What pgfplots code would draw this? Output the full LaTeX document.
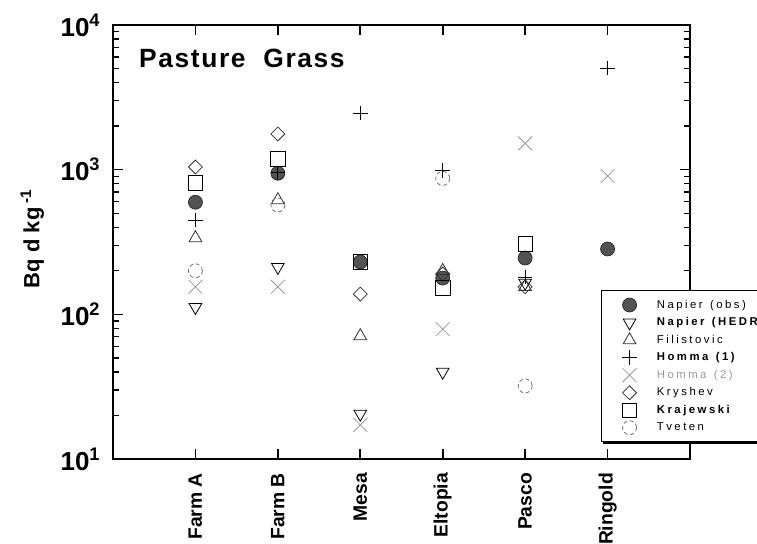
\documentclass[border=0pt]{standalone}
\usepackage{fontspec}
\setmainfont{Liberation Sans}
\newfontfamily\lgfont[LetterSpace=22]{Liberation Sans}
\newfontfamily\ttlfont[LetterSpace=6]{Liberation Sans}
\usepackage{pgfplots}
\pgfplotsset{compat=1.18}
\usetikzlibrary{shadows}
\newcommand{\gap}{\hspace{5.5pt}}
\begin{document}
\begin{tikzpicture}
\begin{axis}[
  name=ax,
  scale only axis, width=432.75pt, height=325.5pt,
  ymode=log, ymin=10, ymax=10000,
  xmin=0, xmax=7,
  xtick={1,2,3,4,5,6},
  xticklabels={Farm A, Farm B, Mesa, Eltopia, Pasco, Ringold},
  ytick={10,100,1000,10000},
  yticklabels={10\textsuperscript{1},10\textsuperscript{2},10\textsuperscript{3},10\textsuperscript{4}},
  tick align=inside,
  xtick pos=both, xticklabel pos=lower,
  ytick pos=both, yticklabel pos=left,
  major tick length=7.5pt, minor tick length=4.5pt,
  every tick/.style={black, line width=1.2pt},
  every minor tick/.style={black, line width=1pt},
  axis line style={line width=1.5pt},
  xticklabel style={rotate=90, anchor=east, font=\bfseries\fontsize{14.5}{16}\selectfont},
  xticklabel shift=7pt,
  yticklabel style={font=\bfseries\fontsize{19.5}{21}\selectfont, xshift=-6pt},
  ylabel={\textbf{Bq d kg\textsuperscript{ -1}}},
  ylabel style={at={(axis description cs:-0.140,0.508)}, anchor=center, font=\bfseries\fontsize{16.5}{18}\selectfont},
  only marks,
  clip=false,
  legend cell align=left,
  legend style={at={(rel axis cs:0.8457,0.3894)}, anchor=north west,
    draw=black, line width=0.9pt, fill=white,
    drop shadow={shadow xshift=1.2pt, shadow yshift=-1.6pt, fill=black, opacity=1},
    font=\lgfont\fontsize{8.5}{10}\selectfont,
    inner xsep=15.5pt, inner ysep=5pt, row sep=1.5pt,
    /tikz/every odd column/.append style={column sep=13pt}},
]
\addplot[mark=*, mark size=5.25pt, mark options={draw=black!85, fill=black!68, line width=0.5pt}]
  coordinates {(1,595) (2,944) (3,230) (4,178) (5,245) (6,283)};
\addlegendentry{Napier\gap(obs)}
\addplot[mark=triangle, mark size=5.5pt, mark options={rotate=180, draw=black, line width=0.6pt}]
  coordinates {(1,112) (2,212) (3,20.5) (4,40) (5,165)};
\addlegendentry{\bfseries Napier\gap(HEDR)}
\addplot[mark=triangle, mark size=5.5pt, mark options={draw=black!80, line width=0.6pt}]
  coordinates {(1,337) (2,617) (3,70.8) (4,200) (5,155)};
\addlegendentry{Filistovic}
\addplot[mark=+, mark size=5.5pt, mark options={draw=black, line width=0.6pt}]
  coordinates {(1,449) (2,950) (3,2466) (4,990) (5,181) (6,5047)};
\addlegendentry{\bfseries Homma\gap(1)}
\addplot[mark=x, mark size=7.3pt, mark options={draw=black!40, line width=0.6pt}]
  coordinates {(1,155) (2,155) (3,17.2) (4,79) (5,1520) (6,904)};
\addlegendentry{\textcolor{black!40}{Homma\gap(2)}}
\addplot[mark=square, mark size=3.7pt, mark options={rotate=45, draw=black!80, line width=0.6pt}]
  coordinates {(1,1043) (2,1765) (3,138) (4,190) (5,155)};
\addlegendentry{Kryshev}
\addplot[mark=square, mark size=5.4pt, mark options={draw=black, line width=0.6pt}]
  coordinates {(1,809) (2,1185) (3,230) (4,152) (5,306)};
\addlegendentry{\bfseries Krajewski}
\addplot[mark=o, mark size=5.25pt, mark options={draw=black!55, densely dashed, line width=0.6pt}]
  coordinates {(1,200) (2,570) (4,870) (5,32)};
\addlegendentry{Tveten}
\node[anchor=west, inner sep=0pt, font=\ttlfont\bfseries\fontsize{19.8}{22}\selectfont] at (rel axis cs:0.045,0.924) {Pasture~~Grass};
\end{axis}
\pgfresetboundingbox
\path ([shift={(-84.75pt,-63.75pt)}]ax.south west) rectangle ([shift={(50.25pt,18.75pt)}]ax.north east);
\end{tikzpicture}
\end{document}
